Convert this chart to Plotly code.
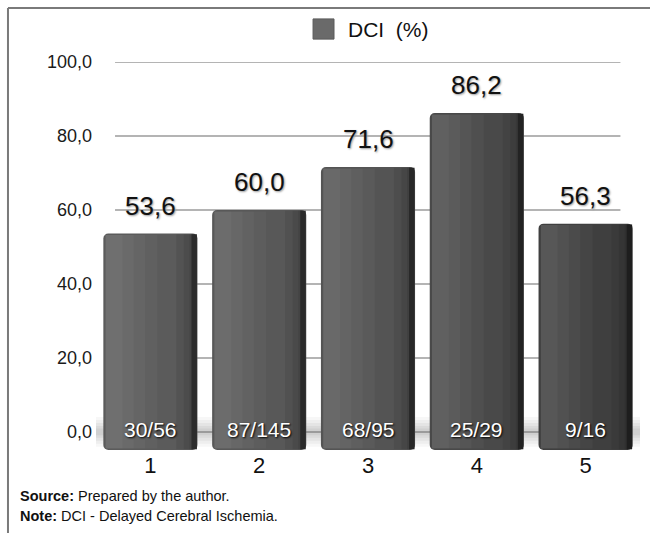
import plotly.graph_objects as go

# Data
categories = [1, 2, 3, 4, 5]
dci_pct = [53.6, 60.0, 71.6, 86.2, 56.3]
dci_labels = ["53,6", "60,0", "71,6", "86,2", "56,3"]
counts = ["30/56", "87/145", "68/95", "25/29", "9/16"]
y_ticks = [0, 20, 40, 60, 80, 100]
y_tick_text = ["0,0", "20,0", "40,0", "60,0", "80,0", "100,0"]

FONT = "Liberation Sans, Arial, sans-serif"
BASE = -4.9          # bars start a little below the 0 line (floor effect)
W = 0.865            # bar width in category units

body_colors = ["#5b5b5b", "#585858", "#545454", "#494949", "#3f3f3f"]
edge_colors = ["#2c2c2c", "#2a2a2a", "#282828", "#232323", "#1e1e1e"]

fig = go.Figure()

# main bar body
fig.add_trace(go.Bar(
    x=categories, y=[v - BASE for v in dci_pct], base=BASE,
    width=W, offset=-W / 2,
    marker=dict(color=body_colors, cornerradius=5, line=dict(width=0)),
    name="DCI  (%)", showlegend=False, hoverinfo="skip",
))
# soft highlight on the left side: stacked translucent strips
for frac in [0.55, 0.42, 0.30, 0.18]:
    fig.add_trace(go.Bar(
        x=categories, y=[v - BASE - 0.8 for v in dci_pct], base=BASE + 0.4,
        width=W * frac, offset=-W / 2 + 0.02,
        marker=dict(color="#ffffff", opacity=0.035, line=dict(width=0)),
        showlegend=False, hoverinfo="skip",
    ))
# darker right side: stacked translucent strips then solid edge
for frac in [0.22, 0.14, 0.08]:
    fig.add_trace(go.Bar(
        x=categories, y=[v - BASE - 0.4 for v in dci_pct], base=BASE + 0.2,
        width=W * frac, offset=W / 2 - W * frac - 0.005,
        marker=dict(color="#000000", opacity=0.08, line=dict(width=0)),
        showlegend=False, hoverinfo="skip",
    ))
fig.add_trace(go.Bar(
    x=categories, y=[v - BASE - 0.4 for v in dci_pct], base=BASE + 0.2,
    width=0.05, offset=W / 2 - 0.055,
    marker=dict(color=edge_colors, line=dict(width=0)),
    showlegend=False, hoverinfo="skip",
))

shapes = []
# horizontal gridlines
for t in y_ticks:
    shapes.append(dict(type="line", xref="x", yref="y", x0=0.675, x1=5.32,
                       y0=t, y1=t, line=dict(color="#b4b4b4", width=2),
                       layer="below"))
# soft floor shadow along the 0 line
for x0, half, op in [(-0.35, 4.0, 0.05), (-0.2, 3.2, 0.06), (0.0, 2.4, 0.07),
                     (0.2, 1.6, 0.08), (0.35, 0.9, 0.08)]:
    shapes.append(dict(type="rect", xref="x", yref="y", x0=x0, x1=5.5,
                       y0=-half, y1=half, fillcolor="#6a6a6a", opacity=op,
                       line=dict(width=0), layer="below"))
# legend swatch
shapes.append(dict(type="rect", xref="paper", yref="paper",
                   x0=0.399, x1=0.4375, y0=1.059, y1=1.111,
                   fillcolor="#6a6a6a", line=dict(color="#5a5a5a", width=1)))
# frame (top and left)
shapes.append(dict(type="line", xref="paper", yref="paper",
                   x0=-0.1618, x1=1.02, y0=1.139, y1=1.139,
                   line=dict(color="#7a7a7a", width=2)))
shapes.append(dict(type="line", xref="paper", yref="paper",
                   x0=-0.1618, x1=-0.1618, y0=1.139, y1=-0.22,
                   line=dict(color="#7a7a7a", width=2)))

annotations = []
for c, v, lab in zip(categories, dci_pct, dci_labels):
    annotations.append(dict(x=c, y=v, xref="x", yref="y", text=lab,
                            showarrow=False, yanchor="bottom", yshift=11,
                            font=dict(family=FONT, size=26, color="#111111",
                                      shadow="1px 1px 2px #9a9a9a")))
for c, lab in zip(categories, counts):
    annotations.append(dict(x=c, y=0, xref="x", yref="y", text=lab,
                            showarrow=False, yanchor="middle", yshift=2,
                            font=dict(family=FONT, size=21, color="#ffffff",
                                      shadow="1px 1px 2px #000000")))
annotations.append(dict(x=0.4596, y=1.0825, xref="paper", yref="paper",
                        text="DCI  (%)", showarrow=False, xanchor="left",
                        yanchor="middle",
                        font=dict(family=FONT, size=21, color="#111111")))
annotations.append(dict(x=-0.1434, y=-0.1186, xref="paper", yref="paper",
                        text="<b>Source:</b> Prepared by the author.",
                        showarrow=False, xanchor="left", yanchor="middle",
                        font=dict(family=FONT, size=14.5, color="#111111")))
annotations.append(dict(x=-0.1434, y=-0.170, xref="paper", yref="paper",
                        text="<b>Note:</b> DCI - Delayed Cerebral Ischemia.",
                        showarrow=False, xanchor="left", yanchor="middle",
                        font=dict(family=FONT, size=14.5, color="#111111")))

fig.update_layout(
    width=650, height=533,
    margin=dict(l=96, r=10, t=62, b=83),
    paper_bgcolor="white", plot_bgcolor="white",
    barmode="overlay", showlegend=False,
    shapes=shapes, annotations=annotations,
    xaxis=dict(range=[0.5, 5.5], tickvals=categories,
               ticktext=[str(c) for c in categories],
               showgrid=False, zeroline=False, showline=False, ticks="",
               tickfont=dict(family=FONT, size=22, color="#111111")),
    yaxis=dict(range=[BASE, 100], tickvals=y_ticks, ticktext=y_tick_text,
               showgrid=False, zeroline=False, showline=False, ticks="",
               ticklabelstandoff=3,
               tickfont=dict(family=FONT, size=18, color="#1a1a1a")),
)

fig.write_html("out.html")
